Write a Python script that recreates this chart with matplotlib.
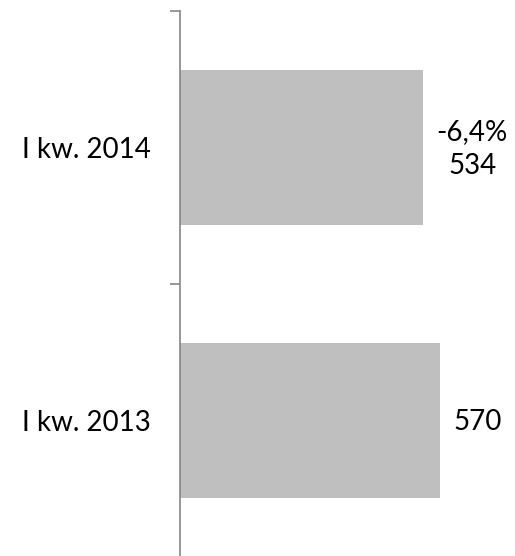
import matplotlib.pyplot as plt

categories = ['I kw. 2014', 'I kw. 2013']
values = [534, 570]
value_labels = ['-6,4%\n534', '570']

plt.rcParams['font.family'] = ['Lato', 'DejaVu Sans']

fig = plt.figure(figsize=(5.15, 5.56), dpi=100)
ax = fig.add_axes([180 / 515, -1 / 556, 335 / 515, 546 / 556])

pos = list(range(len(categories)))
ax.barh(pos, values, height=0.57, color='#BFBFBF')
ax.set_ylim(1.5, -0.5)
ax.set_xlim(0, 735)

for p, v, lab in zip(pos, values, value_labels):
    ax.annotate(lab, xy=(v, p), xytext=(9.5, -1), textcoords='offset points',
                ha='left', va='center', multialignment='center',
                fontsize=20, color='#000000', linespacing=1.35)

# boundaries as major ticks, category names on minor ticks
ax.set_yticks([-0.5, 0.5, 1.5])
ax.set_yticklabels([])
ax.set_yticks(pos, minor=True)
ax.set_yticklabels(categories, minor=True, fontsize=20)
ax.tick_params(axis='y', which='major', length=7.2, width=1.2, color='#868686')
ax.tick_params(axis='y', which='minor', length=0, pad=21)
ax.set_xticks([])

for s in ['top', 'right', 'bottom']:
    ax.spines[s].set_visible(False)
ax.spines['left'].set_color('#868686')
ax.spines['left'].set_linewidth(1.2)

fig.savefig('out.png', dpi=100)
